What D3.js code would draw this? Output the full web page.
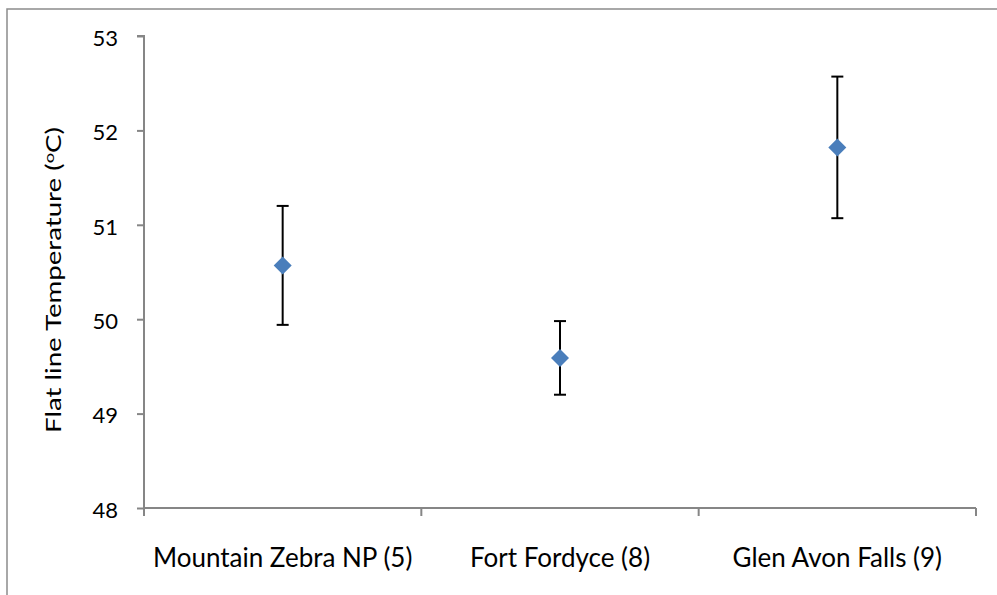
<!DOCTYPE html>
<html>
<head>
<meta charset="utf-8">
<script src="https://cdn.jsdelivr.net/npm/d3@7"></script>
<style>
  html, body { margin: 0; padding: 0; background: #fff; }
  svg { display: block; }
  text { font-family: Lato, "Open Sans", sans-serif; fill: #000; }
</style>
</head>
<body>
<svg id="chart" width="997" height="595"></svg>
<script>
// Site means of flat line temperature with error bars (°C)
const sites = ["Mountain Zebra NP (5)", "Fort Fordyce (8)", "Glen Avon Falls (9)"];
const means = [50.57, 49.59, 51.82];
const errors = [0.63, 0.39, 0.75];
const yTicks = [48, 49, 50, 51, 52, 53];

const svg = d3.select("#chart");
const axisColor = "#868686";

// outer chart frame
svg.append("rect")
  .attr("x", 7).attr("y", 9)
  .attr("width", 1000).attr("height", 600)
  .attr("fill", "none")
  .attr("stroke", "#8c8c8c")
  .attr("stroke-width", 1.5);

const plot = { left: 144, right: 976, top: 36, bottom: 508 };

const x = d3.scaleBand().domain(sites).range([plot.left, plot.right]).padding(0);
const y = d3.scaleLinear().domain([48, 53]).range([plot.bottom, plot.top]);

// y axis
const yAxis = svg.append("g")
  .attr("transform", `translate(${plot.left},0)`)
  .call(d3.axisLeft(y).tickValues(yTicks).tickSize(7).tickPadding(19).tickFormat(d3.format("d")));
yAxis.select(".domain").attr("stroke", axisColor).attr("stroke-width", 2).attr("d", `M-7,${plot.top}H0V${plot.bottom}`);
yAxis.selectAll(".tick line").attr("stroke", axisColor).attr("stroke-width", 2);
yAxis.selectAll(".tick text")
  .attr("font-size", 22)
  .attr("font-family", "Lato, sans-serif")
  .attr("fill", "#000")
  .attr("dy", "0.42em");

// x axis: line with ticks at category boundaries
const xg = svg.append("g").attr("transform", `translate(0,${plot.bottom})`);
xg.append("line")
  .attr("x1", plot.left).attr("x2", plot.right)
  .attr("stroke", axisColor).attr("stroke-width", 2);
const edges = sites.map(s => x(s)).concat([x(sites[sites.length - 1]) + x.bandwidth()]);
xg.selectAll("line.tick").data(edges).join("line")
  .attr("class", "tick")
  .attr("x1", d => d).attr("x2", d => d)
  .attr("y1", 0).attr("y2", 8)
  .attr("stroke", axisColor).attr("stroke-width", 2);
xg.selectAll("text").data(sites).join("text")
  .attr("x", d => x(d) + x.bandwidth() / 2)
  .attr("y", 59)
  .attr("text-anchor", "middle")
  .attr("font-size", 26)
  .text(d => d);

// y axis title
const title = svg.append("text")
  .attr("transform", `translate(61,280) rotate(-90)`)
  .attr("text-anchor", "middle")
  .attr("font-size", 21)
  .attr("textLength", 306)
  .attr("lengthAdjust", "spacingAndGlyphs");
title.append("tspan").text("Flat line Temperature (");
title.append("tspan").attr("font-size", 14).attr("dy", -7).text("o");
title.append("tspan").attr("dy", 7).text("C)");

// error bars
const cx = d => x(d) + x.bandwidth() / 2;
const bars = svg.append("g").attr("stroke", "#000").attr("stroke-width", 2);
sites.forEach((s, i) => {
  const hi = y(means[i] + errors[i]), lo = y(means[i] - errors[i]);
  bars.append("line").attr("x1", cx(s)).attr("x2", cx(s)).attr("y1", hi).attr("y2", lo);
  bars.append("line").attr("x1", cx(s) - 6).attr("x2", cx(s) + 6).attr("y1", hi).attr("y2", hi);
  bars.append("line").attr("x1", cx(s) - 6).attr("x2", cx(s) + 6).attr("y1", lo).attr("y2", lo);
});

// diamond markers
svg.append("g").selectAll("path").data(sites).join("path")
  .attr("d", "M0,-9L9,0L0,9L-9,0Z")
  .attr("transform", (d, i) => `translate(${cx(d)},${y(means[i])})`)
  .attr("fill", "#4a7ebb");
</script>
</body>
</html>
